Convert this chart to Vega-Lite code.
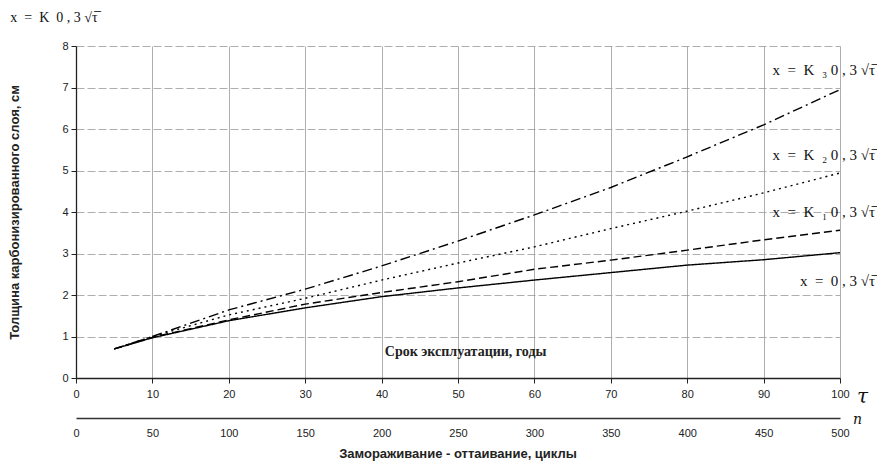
{
  "$schema": "https://vega.github.io/schema/vega-lite/v6.json",
  "width": 764,
  "height": 332,
  "autosize": {"type": "none"},
  "padding": {"left": 76, "top": 46, "right": 37, "bottom": 90},
  "background": "white",
  "config": {"view": {"stroke": null}},
  "title": {
    "text": "Замораживание - оттаивание, циклы",
    "orient": "bottom",
    "anchor": "middle",
    "font": "Liberation Sans",
    "fontSize": 13,
    "fontWeight": "bold",
    "color": "#222",
    "offset": 10
  },
  "datasets": {
    "curves": [
      {"tau": 5, "x": 0.7, "s": "0"}, {"tau": 10, "x": 0.97, "s": "0"}, {"tau": 20, "x": 1.38, "s": "0"}, {"tau": 30, "x": 1.69, "s": "0"}, {"tau": 40, "x": 1.96, "s": "0"}, {"tau": 50, "x": 2.17, "s": "0"}, {"tau": 60, "x": 2.36, "s": "0"}, {"tau": 70, "x": 2.54, "s": "0"}, {"tau": 80, "x": 2.72, "s": "0"}, {"tau": 90, "x": 2.85, "s": "0"}, {"tau": 100, "x": 3.02, "s": "0"},
      {"tau": 5, "x": 0.7, "s": "K1"}, {"tau": 10, "x": 0.98, "s": "K1"}, {"tau": 20, "x": 1.4, "s": "K1"}, {"tau": 30, "x": 1.78, "s": "K1"}, {"tau": 40, "x": 2.06, "s": "K1"}, {"tau": 50, "x": 2.32, "s": "K1"}, {"tau": 60, "x": 2.62, "s": "K1"}, {"tau": 70, "x": 2.84, "s": "K1"}, {"tau": 80, "x": 3.08, "s": "K1"}, {"tau": 90, "x": 3.33, "s": "K1"}, {"tau": 100, "x": 3.56, "s": "K1"},
      {"tau": 5, "x": 0.7, "s": "K2"}, {"tau": 10, "x": 1.0, "s": "K2"}, {"tau": 20, "x": 1.52, "s": "K2"}, {"tau": 30, "x": 1.92, "s": "K2"}, {"tau": 40, "x": 2.36, "s": "K2"}, {"tau": 50, "x": 2.77, "s": "K2"}, {"tau": 60, "x": 3.16, "s": "K2"}, {"tau": 70, "x": 3.6, "s": "K2"}, {"tau": 80, "x": 4.02, "s": "K2"}, {"tau": 90, "x": 4.46, "s": "K2"}, {"tau": 100, "x": 4.94, "s": "K2"},
      {"tau": 5, "x": 0.7, "s": "K3"}, {"tau": 10, "x": 1.0, "s": "K3"}, {"tau": 20, "x": 1.64, "s": "K3"}, {"tau": 30, "x": 2.14, "s": "K3"}, {"tau": 40, "x": 2.7, "s": "K3"}, {"tau": 50, "x": 3.3, "s": "K3"}, {"tau": 60, "x": 3.93, "s": "K3"}, {"tau": 70, "x": 4.59, "s": "K3"}, {"tau": 80, "x": 5.33, "s": "K3"}, {"tau": 90, "x": 6.1, "s": "K3"}, {"tau": 100, "x": 6.95, "s": "K3"}
    ],
    "rightLabels": [
      {"tau": 104.6, "x": 7.42, "label": "x\u2002=\u2002K\u2002₃ 0 , 3 √τ̅"},
      {"tau": 104.6, "x": 5.37, "label": "x\u2002=\u2002K\u2002₂ 0 , 3 √τ̅"},
      {"tau": 104.6, "x": 4.0, "label": "x\u2002=\u2002K\u2002₁ 0 , 3 √τ̅"},
      {"tau": 104.6, "x": 2.34, "label": "x\u2002=\u20020 , 3 √τ̅"}
    ],
    "topLabel": [{"tau": -8.6, "x": 8.67, "label": "x\u2002=\u2002K\u20020 , 3 √τ̅"}],
    "midLabel": [{"tau": 51, "x": 0.63, "label": "Срок эксплуатации, годы"}],
    "nAxis": [{"n": 0}, {"n": 500}]
  },
  "layer": [
    {
      "layer": [
        {
          "data": {"name": "curves"},
          "mark": {"type": "line", "color": "black", "strokeWidth": 1.4},
          "encoding": {
            "x": {
              "field": "tau", "type": "quantitative",
              "scale": {"domain": [0, 100], "nice": false},
              "axis": {
                "values": [0, 10, 20, 30, 40, 50, 60, 70, 80, 90, 100],
                "title": "τ",
                "titleAngle": 0,
                "titleFont": "DejaVu Serif",
                "titleFontStyle": "italic",
                "titleFontWeight": "normal",
                "titleFontSize": 20,
                "titleColor": "#111",
                "titleX": 786,
                "titleY": 24,
                "titleAlign": "center",
                "titleBaseline": "alphabetic",
                "labelFont": "Liberation Sans",
                "labelFontSize": 11,
                "labelColor": "#222",
                "labelPadding": 5,
                "labelFlush": false,
                "tickSize": 5,
                "tickColor": "#222",
                "domainColor": "#222",
                "domainWidth": 1.3,
                "grid": true,
                "gridColor": "#999",
                "gridWidth": 0.8
              }
            },
            "y": {
              "field": "x", "type": "quantitative",
              "scale": {"domain": [0, 8], "nice": false},
              "axis": {
                "values": [0, 1, 2, 3, 4, 5, 6, 7, 8],
                "title": "Толщина карбонизированного слоя, см",
                "titleFont": "Liberation Sans",
                "titleFontSize": 13,
                "titleFontWeight": "bold",
                "titleColor": "#222",
                "titlePadding": 40,
                "labelFont": "Liberation Sans",
                "labelFontSize": 11,
                "labelColor": "#222",
                "labelPadding": 3,
                "tickSize": 5,
                "tickColor": "#222",
                "domainColor": "#222",
                "domainWidth": 1.3,
                "grid": true,
                "gridColor": "#999",
                "gridWidth": 0.8,
                "gridDash": [8, 3]
              }
            },
            "detail": {"field": "s"},
            "strokeDash": {
              "field": "s", "type": "nominal",
              "scale": {"domain": ["0", "K1", "K2", "K3"], "range": [[1, 0], [8, 4], [2, 4], [10, 4, 2, 4]]},
              "legend": null
            }
          }
        },
        {
          "data": {"name": "rightLabels"},
          "mark": {"type": "text", "align": "right", "baseline": "middle", "font": "Liberation Serif", "fontSize": 15, "color": "#111"},
          "encoding": {
            "x": {"field": "tau", "type": "quantitative"},
            "y": {"field": "x", "type": "quantitative"},
            "text": {"field": "label"}
          }
        },
        {
          "data": {"name": "topLabel"},
          "mark": {"type": "text", "align": "left", "baseline": "middle", "font": "Liberation Serif", "fontSize": 14, "color": "#111"},
          "encoding": {
            "x": {"field": "tau", "type": "quantitative"},
            "y": {"field": "x", "type": "quantitative"},
            "text": {"field": "label"}
          }
        },
        {
          "data": {"name": "midLabel"},
          "mark": {"type": "text", "align": "center", "baseline": "middle", "font": "Liberation Serif", "fontSize": 14, "fontWeight": "bold", "color": "#222"},
          "encoding": {
            "x": {"field": "tau", "type": "quantitative"},
            "y": {"field": "x", "type": "quantitative"},
            "text": {"field": "label"}
          }
        }
      ]
    },
    {
      "data": {"name": "nAxis"},
      "mark": {"type": "point", "opacity": 0},
      "encoding": {
        "x": {
          "field": "n", "type": "quantitative",
          "scale": {"domain": [0, 500], "nice": false},
          "axis": {
            "orient": "bottom",
            "offset": 40,
            "values": [0, 50, 100, 150, 200, 250, 300, 350, 400, 450, 500],
            "ticks": false,
            "grid": false,
            "labelPadding": 9,
            "labelFont": "Liberation Sans",
            "labelFontSize": 11,
            "labelColor": "#222",
            "labelFlush": false,
            "domainColor": "#333",
            "domainWidth": 1.3,
            "title": "n",
            "titleAngle": 0,
            "titleFont": "DejaVu Serif",
            "titleFontStyle": "italic",
            "titleFontWeight": "normal",
            "titleFontSize": 14,
            "titleColor": "#111",
            "titleX": 781,
            "titleY": 5,
            "titleAlign": "center",
            "titleBaseline": "alphabetic"
          }
        },
        "y": {"value": 0}
      }
    }
  ],
  "resolve": {"scale": {"x": "independent"}}
}
